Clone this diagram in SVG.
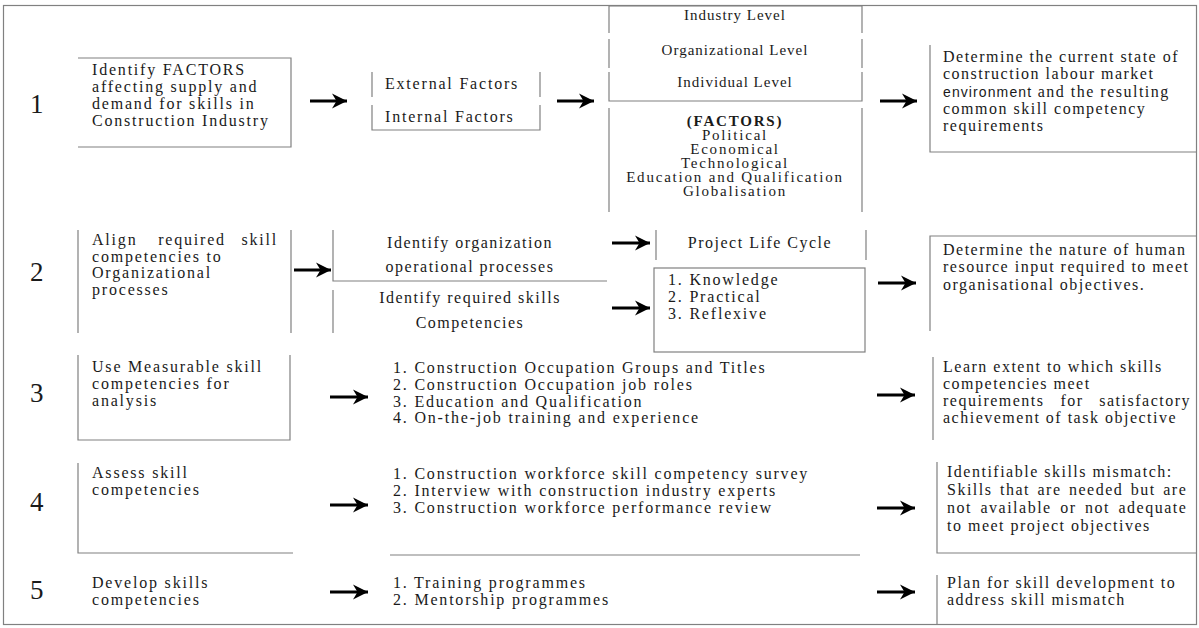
<svg xmlns="http://www.w3.org/2000/svg" width="1199" height="628" viewBox="0 0 1199 628">
  <style>
    .t { font-family: "Liberation Serif", "Times New Roman", serif; font-size: 16px; letter-spacing: 1.8px; fill: #1a1a1a; }
    .r { letter-spacing: 1.5px; }
    .s { font-size: 15px; letter-spacing: 1px; }
    .f { font-size: 15px; letter-spacing: 1.8px; }
    .m { letter-spacing: 1.5px; }
    .c { text-anchor: middle; }
    .e { text-anchor: end; }
    .num { font-family: "Liberation Serif", "Times New Roman", serif; font-size: 27px; fill: #1a1a1a; }
    .ln { fill: none; stroke: #808080; stroke-width: 1.2; }
    .arrow { stroke: #000; stroke-width: 3.2; marker-end: url(#head); }
  </style>
  <defs>
    <marker id="head" markerUnits="userSpaceOnUse" markerWidth="18" markerHeight="18" refX="16" refY="9" orient="auto">
      <path d="M1,1.5 L16,9 L1,16.5 L5.5,9 Z" fill="#000"/>
    </marker>
  </defs>

  <rect width="1199" height="628" fill="#fff"/>
  <rect id="frame" class="ln" x="3.5" y="5.5" width="1193" height="619"/>

  <!-- Step numbers -->
  <g id="numbers">
    <text class="num" x="30" y="113">1</text>
    <text class="num" x="30" y="281">2</text>
    <text class="num" x="30" y="402">3</text>
    <text class="num" x="30" y="511">4</text>
    <text class="num" x="30" y="599">5</text>
  </g>

  <!-- Row 1 -->
  <g id="identify-factors">
    <path class="ln" d="M78,58 H291 V147 H78"/>
    <text class="t" x="92" y="75">Identify FACTORS</text>
    <text class="t" x="92" y="92">affecting supply and</text>
    <text class="t" x="92" y="109">demand for skills in</text>
    <text class="t" x="92" y="126">Construction Industry</text>
  </g>
  <g id="factor-types">
    <path class="ln" d="M372,72 V97 M540,72 V97 M372,105 V130 H540 V105"/>
    <text class="t" x="385" y="89">External Factors</text>
    <text class="t" x="385" y="122">Internal Factors</text>
  </g>
  <g id="levels">
    <path class="ln" d="M609,6 H862 M609,6 V33 M862,6 V33 M609,39 V68 M862,39 V68 M609,72 V101 H862 V72"/>
    <text class="t s c" x="735" y="20">Industry Level</text>
    <text class="t s c" x="735" y="55">Organizational Level</text>
    <text class="t s c" x="735" y="87">Individual Level</text>
  </g>
  <g id="factors-list">
    <path class="ln" d="M609,108 V212 M862,108 V212"/>
    <text class="t f c" x="735" y="126" font-weight="bold">(FACTORS)</text>
    <text class="t f c" x="735" y="140">Political</text>
    <text class="t f c" x="735" y="154">Economical</text>
    <text class="t f c" x="735" y="168">Technological</text>
    <text class="t f c" x="735" y="182">Education and Qualification</text>
    <text class="t f c" x="735" y="196">Globalisation</text>
  </g>
  <g id="result-1">
    <path class="ln" d="M930,45 V152 H1197"/>
    <text class="t r" x="943" y="62">Determine the current state of</text>
    <text class="t r" x="943" y="79">construction labour market</text>
    <text class="t r" x="943" y="97"><tspan font-family="Liberation Sans, Arial, sans-serif" font-size="14" letter-spacing="1.1">environment</tspan> and the resulting</text>
    <text class="t r" x="943" y="114">common skill competency</text>
    <text class="t r" x="943" y="131">requirements</text>
  </g>

  <!-- Row 2 -->
  <g id="align-competencies">
    <path class="ln" d="M78,230 V333 M291,230 V333"/>
    <text class="t" x="92" y="245">Align</text>
    <text class="t c" x="192" y="245">required</text>
    <text class="t e" x="278" y="245">skill</text>
    <text class="t" x="92" y="262">competencies to</text>
    <text class="t" x="92" y="278">Organizational</text>
    <text class="t" x="92" y="295">processes</text>
  </g>
  <g id="org-processes">
    <path class="ln" d="M333,230 V281 H607 M333,290 V333"/>
    <text class="t m c" x="470" y="248">Identify organization</text>
    <text class="t m c" x="470" y="272">operational processes</text>
    <text class="t m c" x="470" y="303">Identify required skills</text>
    <text class="t m c" x="470" y="328">Competencies</text>
  </g>
  <g id="life-cycle">
    <path class="ln" d="M656,230 V260 M866,230 V260"/>
    <text class="t m c" x="760" y="248">Project Life Cycle</text>
  </g>
  <g id="skill-types">
    <rect class="ln" x="654" y="268" width="211" height="84"/>
    <text class="t" x="668" y="285">1. Knowledge</text>
    <text class="t" x="668" y="302">2. Practical</text>
    <text class="t" x="668" y="319">3. Reflexive</text>
  </g>
  <g id="result-2">
    <path class="ln" d="M930,331 V236 H1197"/>
    <text class="t r" x="943" y="255">Determine the nature of human</text>
    <text class="t r" x="943" y="272">resource input required to meet</text>
    <text class="t r" x="943" y="290">organisational objectives.</text>
  </g>

  <!-- Row 3 -->
  <g id="measurable">
    <path class="ln" d="M78,355 V440 H290 V355"/>
    <text class="t" x="92" y="372">Use Measurable skill</text>
    <text class="t" x="92" y="389">competencies for</text>
    <text class="t" x="92" y="406">analysis</text>
  </g>
  <g id="measures">
    <text class="t" x="393" y="373">1. Construction Occupation Groups and Titles</text>
    <text class="t" x="393" y="390">2. Construction Occupation job roles</text>
    <text class="t" x="393" y="407">3. Education and Qualification</text>
    <text class="t" x="393" y="423">4. On-the-job training and experience</text>
  </g>
  <g id="result-3">
    <path class="ln" d="M933,357 V440"/>
    <text class="t r" x="943" y="372">Learn extent to which skills</text>
    <text class="t r" x="943" y="389">competencies meet</text>
    <text class="t r" x="943" y="406">requirements</text>
    <text class="t r c" x="1072" y="406">for</text>
    <text class="t r e" x="1191" y="406">satisfactory</text>
    <text class="t r" x="943" y="423">achievement of task objective</text>
  </g>

  <!-- Row 4 -->
  <g id="assess">
    <path class="ln" d="M78,463 V553 H293"/>
    <text class="t" x="92" y="478">Assess skill</text>
    <text class="t" x="92" y="495">competencies</text>
  </g>
  <g id="assessment-methods">
    <path class="ln" d="M390,555 H860"/>
    <text class="t" x="393" y="479">1. Construction workforce skill competency survey</text>
    <text class="t" x="393" y="496">2. Interview with construction industry experts</text>
    <text class="t" x="393" y="513">3. Construction workforce performance review</text>
  </g>
  <g id="result-4">
    <path class="ln" d="M937,462 V553 H1197"/>
    <text class="t r" x="947" y="477">Identifiable skills mismatch:</text>
    <text class="t r" x="947" y="495" word-spacing="2">Skills that are needed but are</text>
    <text class="t r" x="947" y="513" word-spacing="3">not available or not adequate</text>
    <text class="t r" x="947" y="531">to meet project objectives</text>
  </g>

  <!-- Row 5 -->
  <g id="develop">
    <text class="t" x="92" y="588">Develop skills</text>
    <text class="t" x="92" y="605">competencies</text>
  </g>
  <g id="programmes">
    <text class="t" x="393" y="588">1. Training programmes</text>
    <text class="t" x="393" y="605">2. Mentorship programmes</text>
  </g>
  <g id="result-5">
    <path class="ln" d="M937,575 V625"/>
    <text class="t r" x="947" y="588">Plan for skill development to</text>
    <text class="t r" x="947" y="605">address skill mismatch</text>
  </g>

  <!-- Connectors -->
  <g id="connectors">
    <line class="arrow" x1="310" y1="101" x2="347" y2="101"/>
    <line class="arrow" x1="557" y1="101" x2="594" y2="101"/>
    <line class="arrow" x1="880" y1="101" x2="917" y2="101"/>
    <line class="arrow" x1="294" y1="270" x2="331" y2="270"/>
    <line class="arrow" x1="612" y1="243" x2="650" y2="243"/>
    <line class="arrow" x1="612" y1="308" x2="650" y2="308"/>
    <line class="arrow" x1="878" y1="283" x2="916" y2="283"/>
    <line class="arrow" x1="330" y1="397" x2="368" y2="397"/>
    <line class="arrow" x1="877" y1="395" x2="915" y2="395"/>
    <line class="arrow" x1="330" y1="505" x2="368" y2="505"/>
    <line class="arrow" x1="877" y1="508" x2="915" y2="508"/>
    <line class="arrow" x1="330" y1="592" x2="368" y2="592"/>
    <line class="arrow" x1="877" y1="592" x2="915" y2="592"/>
  </g>
</svg>
